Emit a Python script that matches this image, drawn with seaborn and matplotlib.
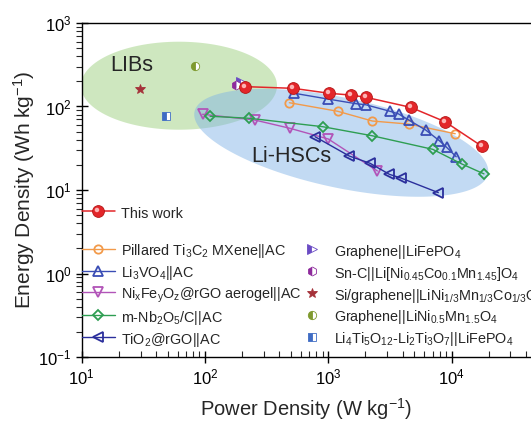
import numpy as np
import matplotlib
matplotlib.use("Agg")
import matplotlib.pyplot as plt
import seaborn as sns
from matplotlib.lines import Line2D
from matplotlib.markers import MarkerStyle
from matplotlib.transforms import Affine2D
from matplotlib.legend_handler import HandlerTuple

# ---------------- data ----------------
this_work_P = [211, 520, 1014, 1530, 2010, 4660, 8830, 17500]
this_work_E = [173, 165, 144, 137, 129, 97.7, 65.8, 33.6]

mxene_P = [483, 1190, 2275, 4490, 10700]
mxene_E = [111, 87.7, 67, 61.6, 47.2]

li3vo4_P = [530, 988, 1680, 2010, 3160, 3720, 4490, 6160, 7950, 9120, 10900]
li3vo4_E = [144, 123, 108, 105, 87.7, 81.4, 68.9, 52.3, 39, 32.4, 25]

nifeo_P = [95.7, 253, 489, 1000, 2500]
nifeo_E = [80.7, 68.9, 54.8, 40.8, 16.9]

nb2o5_P = [110, 229, 901, 2275, 7030, 12100, 18300]
nb2o5_E = [76.4, 72.3, 57.3, 44.6, 30.7, 20.5, 15.6]

tio2_P = [780, 1480, 2180, 3130, 3890, 7800]
tio2_E = [43.5, 25.5, 20.9, 15.4, 13.9, 9.3]

single_P = [196, 177, 29.7, 83, 48.3]
single_E = [197, 181, 161, 305, 77.6]

line_labels = ["Pillared Ti$_3$C$_2$ MXene||AC", "Li$_3$VO$_4$||AC",
               "Ni$_x$Fe$_y$O$_z$@rGO aerogel||AC", "m-Nb$_2$O$_5$/C||AC",
               "TiO$_2$@rGO||AC"]
single_labels = ["Graphene||LiFePO$_4$",
                 "Sn-C||Li[Ni$_{0.45}$Co$_{0.1}$Mn$_{1.45}$]O$_4$",
                 "Si/graphene||LiNi$_{1/3}$Mn$_{1/3}$Co$_{1/3}$O$_2$",
                 "Graphene||LiNi$_{0.5}$Mn$_{1.5}$O$_4$",
                 "Li$_4$Ti$_5$O$_{12}$-Li$_2$Ti$_3$O$_7$||LiFePO$_4$"]

# region ellipses (log10 space centers)
libs_center = (1.789, 2.249)
hsc_center = (3.105, 1.565)

# ---------------- style ----------------
sns.set_theme(style="ticks")
plt.rcParams['font.family'] = ['Liberation Sans', 'DejaVu Sans']
plt.rcParams['mathtext.default'] = 'regular'

W, H = 531, 423
fig = plt.figure(figsize=(W / 100, H / 100), dpi=100)
x0, y_top, y_bot = 81.7, 23.0, 357.0
ax = fig.add_axes([x0 / W, 1 - y_bot / H, (W - x0) / W, (y_bot - y_top) / H])
ax.set_xscale('log')
ax.set_yscale('log')
xmax_log = 1 + (W - x0) / 123.3
ax.set_xlim(10, 10 ** xmax_log)
ax.set_ylim(0.1, 1000)

# ---- ellipses (decorative regions) ----
px_dec_x = (W - x0) / (xmax_log - 1)
px_dec_y = (y_bot - y_top) / 4.0
t = np.linspace(0, 2 * np.pi, 200)
# LIBs: axis aligned
lx = libs_center[0] + 0.795 * np.cos(t)
ly = libs_center[1] + 0.527 * np.sin(t)
ax.fill(10 ** lx, 10 ** ly, color=(0.62, 0.82, 0.50), alpha=0.5, lw=0, zorder=1)
# Li-HSCs: rotated (defined in screen-like units)
a, b, th = 150.0, 45.0, np.deg2rad(12.0)
pxo = a * np.cos(t) * np.cos(th) - b * np.sin(t) * np.sin(th)
pyo = a * np.cos(t) * np.sin(th) + b * np.sin(t) * np.cos(th)
hx = hsc_center[0] + pxo / px_dec_x
hy = hsc_center[1] - pyo / px_dec_y
ax.fill(10 ** hx, 10 ** hy, color=(0.50, 0.70, 0.90), alpha=0.48, lw=0, zorder=2)

ax.text(10 ** 1.405, 10 ** 2.497, "LIBs", fontsize=15.5, ha='center', va='center', zorder=3)
ax.text(10 ** 2.697, 10 ** 1.407, "Li-HSCs", fontsize=15.5, ha='center', va='center', zorder=3)

# ---- line series ----
series = [
    (mxene_P, mxene_E, '#f29a4a', 'o', 6.0),
    (li3vo4_P, li3vo4_E, '#3a4db5', '^', 7.0),
    (nifeo_P, nifeo_E, '#b254b8', 'v', 7.0),
    (nb2o5_P, nb2o5_E, '#2e9e52', 'D', 5.5),
    (tio2_P, tio2_E, '#2b2f9c', '<', 7.0),
]
line_handles = []
for (P, E, c, m, ms) in series:
    sns.lineplot(x=P, y=E, ax=ax, color=c, marker=m, markersize=ms,
                 markerfacecolor='none', markeredgecolor=c, markeredgewidth=1.3,
                 linewidth=1.0, estimator=None, sort=False, legend=False, zorder=5)
    line_handles.append(Line2D([], [], color=c, marker=m, markersize=ms,
                               markerfacecolor='none', markeredgecolor=c,
                               markeredgewidth=1.3, linewidth=1.0))

# ---- single points ----
singles = [
    ('#6a4bc4', '>', 'left', 6.5),
    ('#8e2a9c', 'h', 'left', 6.5),
    ('#a5323a', '*', 'full', 7.0),
    ('#7f9a2e', 'o', 'left', 6.0),
    ('#3f6cc4', 's', 'left', 5.5),
]
single_handles = []
for i, (c, m, fs, ms) in enumerate(singles):
    sns.lineplot(x=[single_P[i]], y=[single_E[i]], ax=ax, color=c, marker=m,
                 markersize=ms, fillstyle=fs, markerfacecolor=c,
                 markerfacecoloralt='white', markeredgecolor=c, markeredgewidth=0.6,
                 linestyle='none', estimator=None, legend=False, zorder=6)
    single_handles.append(Line2D([], [], linestyle='none', color=c, marker=m,
                                 markersize=ms, fillstyle=fs, markerfacecolor=c,
                                 markerfacecoloralt='white', markeredgecolor=c,
                                 markeredgewidth=0.6))

# ---- this work (spheres) ----
red = '#e3262a'
sns.lineplot(x=this_work_P, y=this_work_E, ax=ax, color=red, marker='o',
             markersize=8.5, markerfacecolor=red, markeredgecolor='#b51515',
             markeredgewidth=0.6, linewidth=1.1, estimator=None, sort=False,
             legend=False, zorder=7)
hl = MarkerStyle('o', transform=Affine2D().scale(0.38).translate(-0.13, 0.13))
ax.plot(this_work_P, this_work_E, linestyle='none', marker=hl, markersize=8.5,
        markerfacecolor='#ffc4c4', markeredgewidth=0, alpha=0.9, zorder=8)
tw_base = Line2D([], [], color=red, marker='o', markersize=8.5, markerfacecolor=red,
                 markeredgecolor='#b51515', markeredgewidth=0.6, linewidth=1.1)
tw_hl = Line2D([], [], linestyle='none', marker=hl, markersize=8.5,
               markerfacecolor='#ffc4c4', markeredgewidth=0, alpha=0.9)

# ---- axes styling ----
for s in ['left', 'bottom', 'top']:
    ax.spines[s].set_color('black')
    ax.spines[s].set_linewidth(1.0)
ax.spines['right'].set_visible(False)
ax.tick_params(axis='both', which='major', direction='inout', length=8, width=1,
               labelsize=12, colors='black', top=False, right=False)
ax.tick_params(axis='x', which='minor', direction='in', length=4, width=0.8, top=False)
ax.tick_params(axis='y', which='minor', direction='out', length=4, width=0.8, right=False)
ax.xaxis.set_major_locator(matplotlib.ticker.LogLocator(base=10, numticks=10))
ax.xaxis.set_minor_locator(matplotlib.ticker.LogLocator(base=10, subs=np.arange(2, 10), numticks=20))
ax.yaxis.set_minor_locator(matplotlib.ticker.LogLocator(base=10, subs=np.arange(2, 10), numticks=20))
ax.set_xlabel("Power Density (W kg$^{-1}$)", fontsize=14.5, labelpad=6)
ax.set_ylabel("Energy Density (Wh kg$^{-1}$)", fontsize=15, labelpad=1)

# ---- legends ----
fsz = 10.4
common = dict(frameon=False, fontsize=fsz, borderpad=0, borderaxespad=0,
              handlelength=2.3, handletextpad=0.4, handleheight=1.4,
              labelspacing=0.25, bbox_transform=fig.transFigure, loc='center left')
leg0 = ax.legend([(tw_base, tw_hl)], ["This work"],
                 handler_map={tuple: HandlerTuple(ndivide=1)},
                 bbox_to_anchor=(x0 / W, 1 - 212.7 / H), **common)
ax.add_artist(leg0)
leg1 = ax.legend(line_handles, line_labels,
                 bbox_to_anchor=(x0 / W, 1 - 295.5 / H), **common)
ax.add_artist(leg1)
leg2 = ax.legend(single_handles, single_labels,
                 bbox_to_anchor=(295.0 / W, 1 - 295.5 / H), **common)

fig.savefig("out.png", dpi=100)
